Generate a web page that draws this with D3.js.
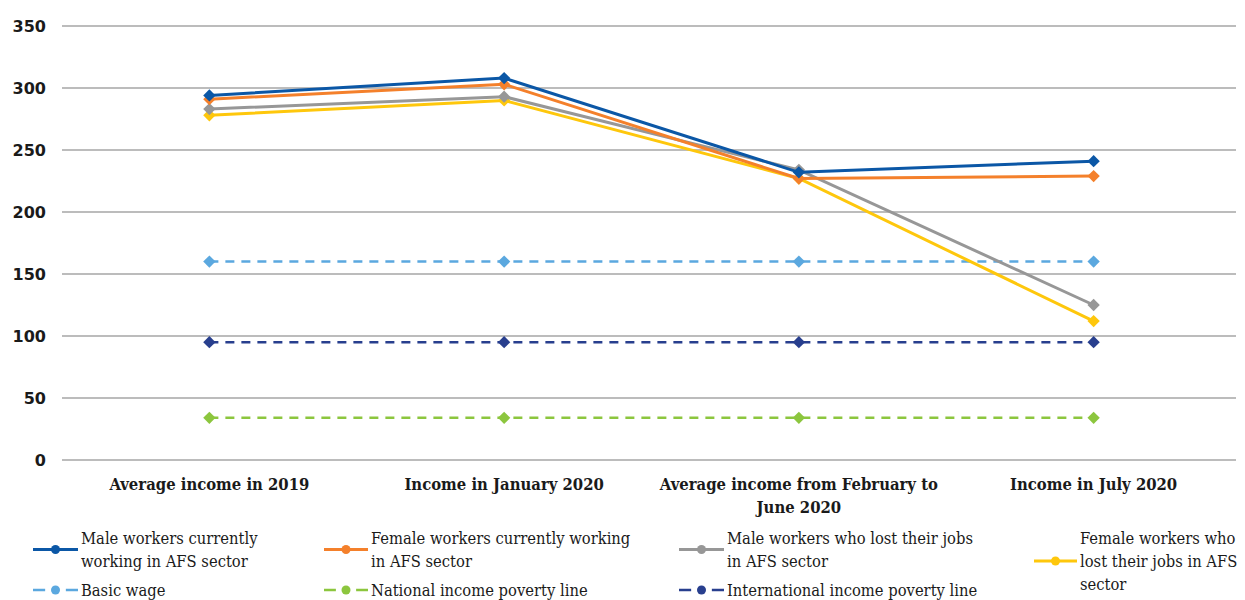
<!DOCTYPE html>
<html>
<head>
<meta charset="utf-8">
<script src="https://cdn.jsdelivr.net/npm/d3@7"></script>
<style>
  html, body { margin: 0; padding: 0; background: #fff; }
  svg { display: block; }
  .ytick { font-family: "DejaVu Sans", sans-serif; font-weight: bold; font-size: 16px; fill: #1a1a1a; }
  .cat { font-family: "DejaVu Serif Condensed", "DejaVu Serif", serif; font-stretch: condensed; font-weight: bold; font-size: 16.5px; fill: #1a1a1a; }
  .leg { font-family: "DejaVu Serif Condensed", "DejaVu Serif", serif; font-stretch: condensed; font-size: 16.4px; fill: #1a1a1a; }
</style>
</head>
<body>
<div id="chart"></div>
<script>
// Monthly income of AFS workers versus wage and poverty benchmarks
const categories = [
  ["Average income in 2019"],
  ["Income in January 2020"],
  ["Average income from February to", "June 2020"],
  ["Income in July 2020"]
];
const maleWorking    = [294, 308, 232, 241];
const femaleWorking  = [291, 303, 227, 229];
const maleLost       = [283, 293, 234, 125];
const femaleLost     = [278, 290, 227, 112];
const basicWage      = [160, 160, 160, 160];
const nationalLine   = [34, 34, 34, 34];
const intlLine       = [95, 95, 95, 95];
const yTicks = [0, 50, 100, 150, 200, 250, 300, 350];

const series = [
  { name: ["Male workers currently", "working in AFS sector"], values: maleWorking, color: "#0b57a6", dashed: false },
  { name: ["Female workers currently working", "in AFS sector"], values: femaleWorking, color: "#f4802b", dashed: false },
  { name: ["Male workers who lost their jobs", "in AFS sector"], values: maleLost, color: "#979797", dashed: false },
  { name: ["Female workers who", "lost their jobs in AFS", "sector"], values: femaleLost, color: "#fec70c", dashed: false },
  { name: ["Basic wage"], values: basicWage, color: "#5ba8df", dashed: true },
  { name: ["National income poverty line"], values: nationalLine, color: "#8cc63e", dashed: true },
  { name: ["International income poverty line"], values: intlLine, color: "#283f8e", dashed: true }
];

const W = 1245, H = 600;
const svg = d3.select("#chart").append("svg").attr("width", W).attr("height", H);

const x = d3.scalePoint().domain(d3.range(categories.length)).range([62, 1241]).padding(0.5);
const y = d3.scaleLinear().domain([0, 350]).range([460, 26]);

// horizontal gridlines
svg.append("g").selectAll("line").data(yTicks).join("line")
  .attr("x1", 62).attr("x2", 1236)
  .attr("y1", d => y(d)).attr("y2", d => y(d))
  .attr("stroke", "#a6a6a6").attr("stroke-width", 1.5);

// y tick labels
svg.append("g").selectAll("text").data(yTicks).join("text")
  .attr("class", "ytick")
  .attr("x", 46).attr("y", d => y(d))
  .attr("dy", "0.35em")
  .attr("text-anchor", "end")
  .text(d => d);

// category labels
const cat = svg.append("g").selectAll("text").data(categories).join("text")
  .attr("class", "cat")
  .attr("text-anchor", "middle")
  .attr("x", (d, i) => x(i))
  .attr("y", 490);
cat.selectAll("tspan").data(d => d).join("tspan")
  .attr("x", function () { return d3.select(this.parentNode).attr("x"); })
  .attr("dy", (d, i) => i === 0 ? 0 : 23)
  .text(d => d);

// series lines (dashed benchmarks first so worker lines sit on top)
const line = d3.line().x((d, i) => x(i)).y(d => y(d));
const order = [4, 5, 6, 3, 2, 1, 0];

order.forEach(k => {
  const s = series[k];
  const g = svg.append("g");
  g.append("path")
    .attr("d", line(s.values))
    .attr("fill", "none")
    .attr("stroke", s.color)
    .attr("stroke-width", s.dashed ? 2.5 : 3)
    .attr("stroke-dasharray", s.dashed ? "9,7" : null);
  g.selectAll("path.pt").data(s.values).join("path")
    .attr("class", "pt")
    .attr("d", d3.symbol().type(d3.symbolSquare).size(76))
    .attr("transform", (d, i) => `translate(${x(i)},${y(d)}) rotate(45)`)
    .attr("fill", s.color);
});

// legend
const legendPos = [
  { mx: 33, tx: 81, ty: 538 },
  { mx: 324, tx: 371, ty: 538 },
  { mx: 679, tx: 727, ty: 538 },
  { mx: 1034, tx: 1080, ty: 538 },
  { mx: 33, tx: 81, ty: 590 },
  { mx: 324, tx: 371, ty: 590 },
  { mx: 679, tx: 727, ty: 590 }
];
series.forEach((s, k) => {
  const p = legendPos[k];
  const n = s.name.length;
  const lineGap = 23;
  const markY = p.ty + (n - 1) * lineGap / 2;
  const g = svg.append("g");
  const mw = p.tx - p.mx - 3;
  g.append("line").attr("x1", p.mx).attr("x2", p.mx + mw)
    .attr("y1", markY).attr("y2", markY)
    .attr("stroke", s.color).attr("stroke-width", s.dashed ? 2.5 : 3)
    .attr("stroke-dasharray", s.dashed ? `${mw * 0.27},${mw * 0.46}` : null);
  g.append("circle").attr("cx", p.mx + mw / 2).attr("cy", markY).attr("r", 4.5).attr("fill", s.color);
  const t = g.append("text").attr("class", "leg").attr("x", p.tx).attr("y", p.ty);
  t.selectAll("tspan").data(s.name).join("tspan")
    .attr("x", p.tx)
    .attr("dy", (d, i) => i === 0 ? "0.35em" : lineGap)
    .text(d => d);
});
</script>
</body>
</html>
